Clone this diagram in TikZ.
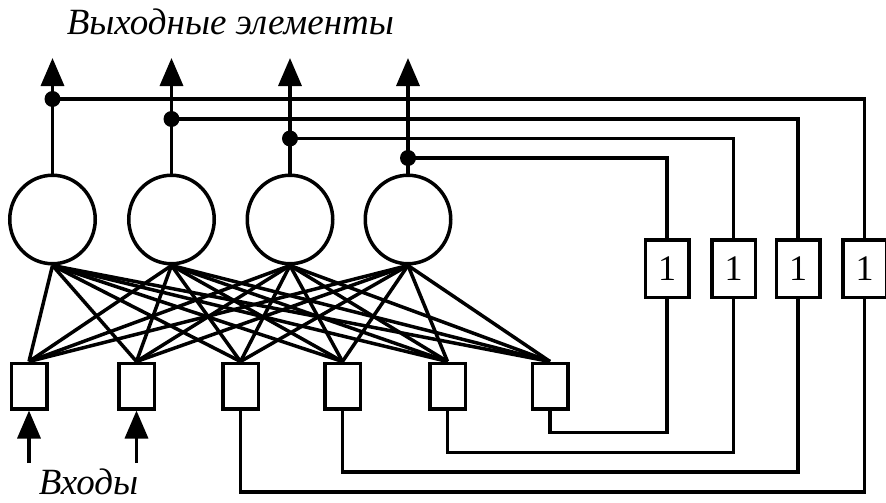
\documentclass[tikz,border=0pt]{standalone}
\usepackage{fontspec}
\setmainfont{Liberation Serif}
\usetikzlibrary{shapes.geometric,arrows.meta}
\begin{document}
\begin{tikzpicture}[x=1pt,y=-1pt,line width=3.5pt,line join=miter,
  neuron/.style={ellipse,draw,minimum width=85.5pt,minimum height=88.5pt,inner sep=0pt},
  inbox/.style={rectangle,draw,minimum width=35.5pt,minimum height=45.5pt,inner sep=0pt},
  delaybox/.style={rectangle,draw,minimum width=43.5pt,minimum height=57.5pt,inner sep=0pt,font=\fontsize{36}{36}\selectfont},
  lbl/.style={font=\itshape\fontsize{37}{37}\selectfont,inner sep=0pt},
  tip/.style={-{Triangle[length=28pt,width=23pt]}},
  dotc/.style={circle,fill,inner sep=0pt,minimum size=16pt}]
\useasboundingbox (0,0) rectangle (886,503);
% titles
\node[lbl,anchor=base west] (title) at (65,35) {Выходные элементы};
\node[lbl,anchor=base west] (inp) at (37,494) {Входы};
% neurons
\node[neuron] (c1) at (52.5,219.5) {};
\node[neuron] (c2) at (171.5,219.5) {};
\node[neuron] (c3) at (290,219.5) {};
\node[neuron] (c4) at (408,219.5) {};
% input boxes
\node[inbox] (b1) at (29,386) {};
\node[inbox] (b2) at (136.5,386) {};
\node[inbox] (b3) at (240.5,386) {};
\node[inbox] (b4) at (342.5,386) {};
\node[inbox] (b5) at (447.5,386) {};
\node[inbox] (b6) at (550,386) {};
% delay boxes
\node[delaybox] (u1) at (864.5,268.6) {1};
\node[delaybox] (u2) at (798,268.6) {1};
\node[delaybox] (u3) at (733.5,268.6) {1};
\node[delaybox] (u4) at (667,268.6) {1};
% output arrow ends
\coordinate (o1) at (52.5,58);
\coordinate (o2) at (171.5,58);
\coordinate (o3) at (290,58);
\coordinate (o4) at (408,58);
% junction dots
\node[dotc] (d1) at (52.5,99) {};
\node[dotc] (d2) at (171.5,119) {};
\node[dotc] (d3) at (290,138.5) {};
\node[dotc] (d4) at (408,158) {};
% input arrow starts
\coordinate (i1) at (29,463);
\coordinate (i2) at (136.5,463);
% bottom corners
\coordinate (r1) at (864.5,492);
\coordinate (r2) at (798,472);
\coordinate (r3) at (733.5,452.5);
\coordinate (r4) at (667,432.5);
% outputs
\foreach \k in {1,...,4} \draw[tip] (c\k.north) -- (o\k);
% full connections
\foreach \k in {1,...,4}
  \foreach \j in {1,...,6}
    \draw (c\k.south) -- (b\j.north);
% feedback: outputs to delay units
\foreach \k in {1,...,4} \draw (d\k.center) -| (u\k.north);
% delay units back to input boxes
\draw (b3.south) |- (r1) -- (u1.south);
\draw (b4.south) |- (r2) -- (u2.south);
\draw (b5.south) |- (r3) -- (u3.south);
\draw (b6.south) |- (r4) -- (u4.south);
% external inputs
\draw[tip] (i1) -- (b1.south);
\draw[tip] (i2) -- (b2.south);
\end{tikzpicture}
\end{document}
